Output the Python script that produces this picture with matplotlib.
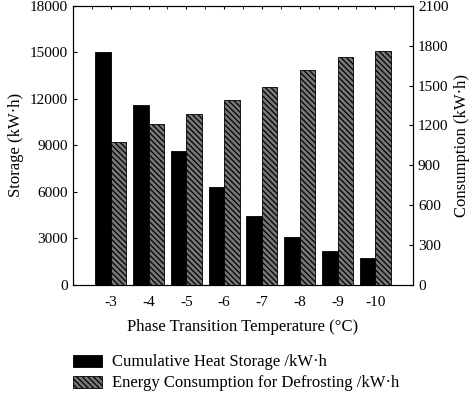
import numpy as np
import matplotlib
matplotlib.use('Agg')
import matplotlib.pyplot as plt
from matplotlib.ticker import MultipleLocator

temps = ['-3', '-4', '-5', '-6', '-7', '-8', '-9', '-10']
storage = [15000, 11600, 8650, 6300, 4450, 3080, 2200, 1760]
consumption = [1075, 1210, 1287, 1392, 1493, 1615, 1716, 1758]

plt.rcParams['font.family'] = 'Liberation Serif'
plt.rcParams['hatch.linewidth'] = 0.9
plt.rcParams['hatch.color'] = 'black'

fig = plt.figure(figsize=(4.77, 3.93), dpi=100)
ax = fig.add_axes([0.153, 0.275, 0.713, 0.71])
ax2 = ax.twinx()

x = np.arange(len(temps))
w = 0.41
b1 = ax.bar(x - w/2, storage, w, color='black', edgecolor='black', linewidth=0.6)
b2 = ax2.bar(x + w/2, consumption, w, color='#777777', edgecolor='black',
             hatch='\\\\\\\\\\\\', linewidth=0.6)

ax.set_xlim(-1.0, 8.0)
ax.set_ylim(0, 18000)
ax2.set_ylim(0, 2100)
ax.set_yticks(np.arange(0, 18001, 3000))
ax2.set_yticks(np.arange(0, 2101, 300))
ax.set_xticks(x)
ax.set_xticklabels(temps)
ax.xaxis.set_minor_locator(MultipleLocator(0.5))

ax.tick_params(axis='both', which='both', direction='in', labelsize=11, length=3)
ax.tick_params(axis='x', which='both', bottom=False, top=True, length=2)
ax.tick_params(axis='x', pad=8)
ax2.tick_params(direction='in', labelsize=11, length=3)

ax.set_xlabel('Phase Transition Temperature (\u00b0C)', fontsize=12, labelpad=7)
ax.set_ylabel('Storage (kW\u00b7h)', fontsize=12)
ax2.set_ylabel('Consumption (kW\u00b7h)', fontsize=12)

for a in (ax, ax2):
    for s in a.spines.values():
        s.set_linewidth(0.8)

fig.legend([b1, b2], ['Cumulative Heat Storage /kW\u00b7h',
                      'Energy Consumption for Defrosting /kW\u00b7h'],
           loc='upper left', bbox_to_anchor=(0.153, 0.098), frameon=False,
           fontsize=12, handlelength=1.75, handleheight=0.75, handletextpad=0.6,
           labelspacing=0.3, borderaxespad=0, borderpad=0)

fig.savefig('out.png', dpi=100)
